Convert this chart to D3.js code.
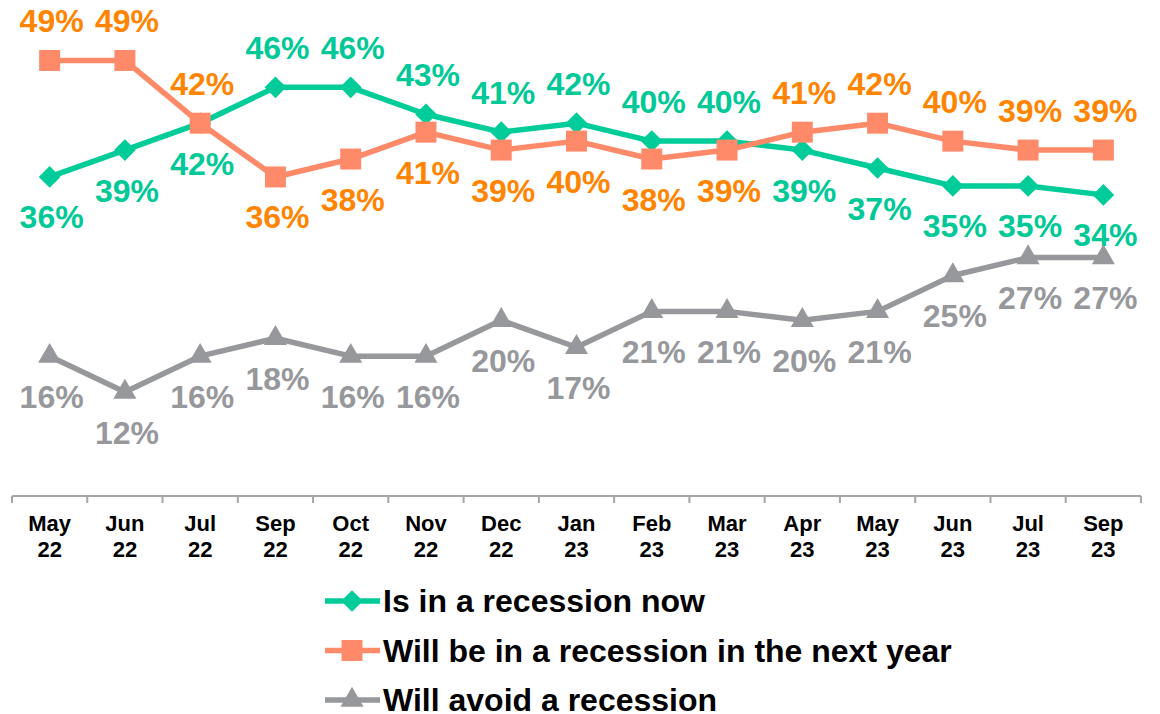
<!DOCTYPE html>
<html>
<head>
<meta charset="utf-8">
<script src="https://cdn.jsdelivr.net/npm/d3@7"></script>
<style>
  body { margin: 0; background: #fff; }
  text { font-family: "Liberation Sans", Arial, sans-serif; font-weight: bold; }
</style>
</head>
<body>
<div id="chart"></div>
<script>
// Chart data
const months = ["May", "Jun", "Jul", "Sep", "Oct", "Nov", "Dec", "Jan", "Feb", "Mar", "Apr", "May", "Jun", "Jul", "Sep"];
const years = ["22", "22", "22", "22", "22", "22", "22", "23", "23", "23", "23", "23", "23", "23", "23"];

const recessionNow = [36, 39, 42, 46, 46, 43, 41, 42, 40, 40, 39, 37, 35, 35, 34];
const recessionNextYear = [49, 49, 42, 36, 38, 41, 39, 40, 38, 39, 41, 42, 40, 39, 39];
const avoidRecession = [16, 12, 16, 18, 16, 16, 20, 17, 21, 21, 20, 21, 25, 27, 27];

// label above (-1) or below (+1) the point
const nowLabelSide = [1, 1, 1, -1, -1, -1, -1, -1, -1, -1, 1, 1, 1, 1, 1];
const nextLabelSide = [-1, -1, -1, 1, 1, 1, 1, 1, 1, 1, -1, -1, -1, -1, -1];
const avoidLabelSide = [1, 1, 1, 1, 1, 1, 1, 1, 1, 1, 1, 1, 1, 1, 1];

const seriesNames = ["Is in a recession now", "Will be in a recession in the next year", "Will avoid a recession"];

function init() {
    const width = 1160, height = 714;

    const svg = d3.select("#chart")
                  .append("svg")
                  .attr("width", width)
                  .attr("height", height);

    const series = [
        { name: seriesNames[0], values: recessionNow, side: nowLabelSide,
          line: "#00CC99", text: "#00C896", symbol: d3.symbolDiamond2, size: 300 },
        { name: seriesNames[1], values: recessionNextYear, side: nextLabelSide,
          line: "#FF8A6A", text: "#FF8400", symbol: d3.symbolSquare, size: 440 },
        { name: seriesNames[2], values: avoidRecession, side: avoidLabelSide,
          line: "#97989C", text: "#97989C", symbol: d3.symbolTriangle, size: 230 }
    ];

    // Scales
    const x = d3.scaleBand()
                .domain(d3.range(months.length))
                .range([12, 1141]);

    const y = d3.scaleLinear()
                .domain([0.4, 50])
                .range([496, 51.5]);

    const cx = i => x(i) + x.bandwidth() / 2;

    // X axis line and ticks at band boundaries
    const axisG = svg.append("g");
    axisG.append("line")
         .attr("x1", x.range()[0]).attr("x2", x.range()[1])
         .attr("y1", 496).attr("y2", 496)
         .attr("stroke", "#A6A6A6").attr("stroke-width", 2);

    axisG.selectAll(".tick")
         .data(d3.range(months.length + 1))
         .enter()
         .append("line")
         .attr("x1", d => d < months.length ? x(d) : x.range()[1])
         .attr("x2", d => d < months.length ? x(d) : x.range()[1])
         .attr("y1", 496).attr("y2", 503)
         .attr("stroke", "#A6A6A6").attr("stroke-width", 2);

    const tickText = axisG.selectAll(".label")
         .data(months)
         .enter()
         .append("text")
         .attr("text-anchor", "middle")
         .attr("font-size", 22)
         .attr("fill", "#000");
    tickText.append("tspan").attr("x", (d, i) => cx(i)).attr("y", 531).text(d => d);
    tickText.append("tspan").attr("x", (d, i) => cx(i)).attr("y", 557).text((d, i) => years[i]);

    // Lines
    const line = d3.line()
                   .x((d, i) => cx(i))
                   .y(d => y(d));

    series.forEach(s => {
        const g = svg.append("g");

        g.append("path")
         .datum(s.values)
         .attr("fill", "none")
         .attr("stroke", s.line)
         .attr("stroke-width", 5.5)
         .attr("stroke-linejoin", "round")
         .attr("d", line);

        g.selectAll(".marker")
         .data(s.values)
         .enter()
         .append("path")
         .attr("transform", (d, i) => `translate(${cx(i)},${y(d)})`)
         .attr("d", d3.symbol().type(s.symbol).size(s.size))
         .attr("fill", s.line);

        g.selectAll(".value")
         .data(s.values)
         .enter()
         .append("text")
         .attr("x", (d, i) => cx(i) + 2)
         .attr("y", (d, i) => y(d) + s.side[i] * 40 + 11.5)
         .attr("text-anchor", "middle")
         .attr("font-size", 32)
         .attr("fill", s.text)
         .text(d => d + "%");
    });

    // Legend
    const legend = svg.append("g");
    series.forEach((s, i) => {
        const ly = 601 + i * 49.5;
        legend.append("line")
              .attr("x1", 325).attr("x2", 380)
              .attr("y1", ly).attr("y2", ly)
              .attr("stroke", s.line).attr("stroke-width", 5.5);
        legend.append("path")
              .attr("transform", `translate(352,${ly})`)
              .attr("d", d3.symbol().type(s.symbol).size(s.size))
              .attr("fill", s.line);
        legend.append("text")
              .attr("x", 383)
              .attr("y", ly + 11)
              .attr("font-size", 32)
              .attr("fill", "#000")
              .text(s.name);
    });
}

init();
</script>
</body>
</html>
